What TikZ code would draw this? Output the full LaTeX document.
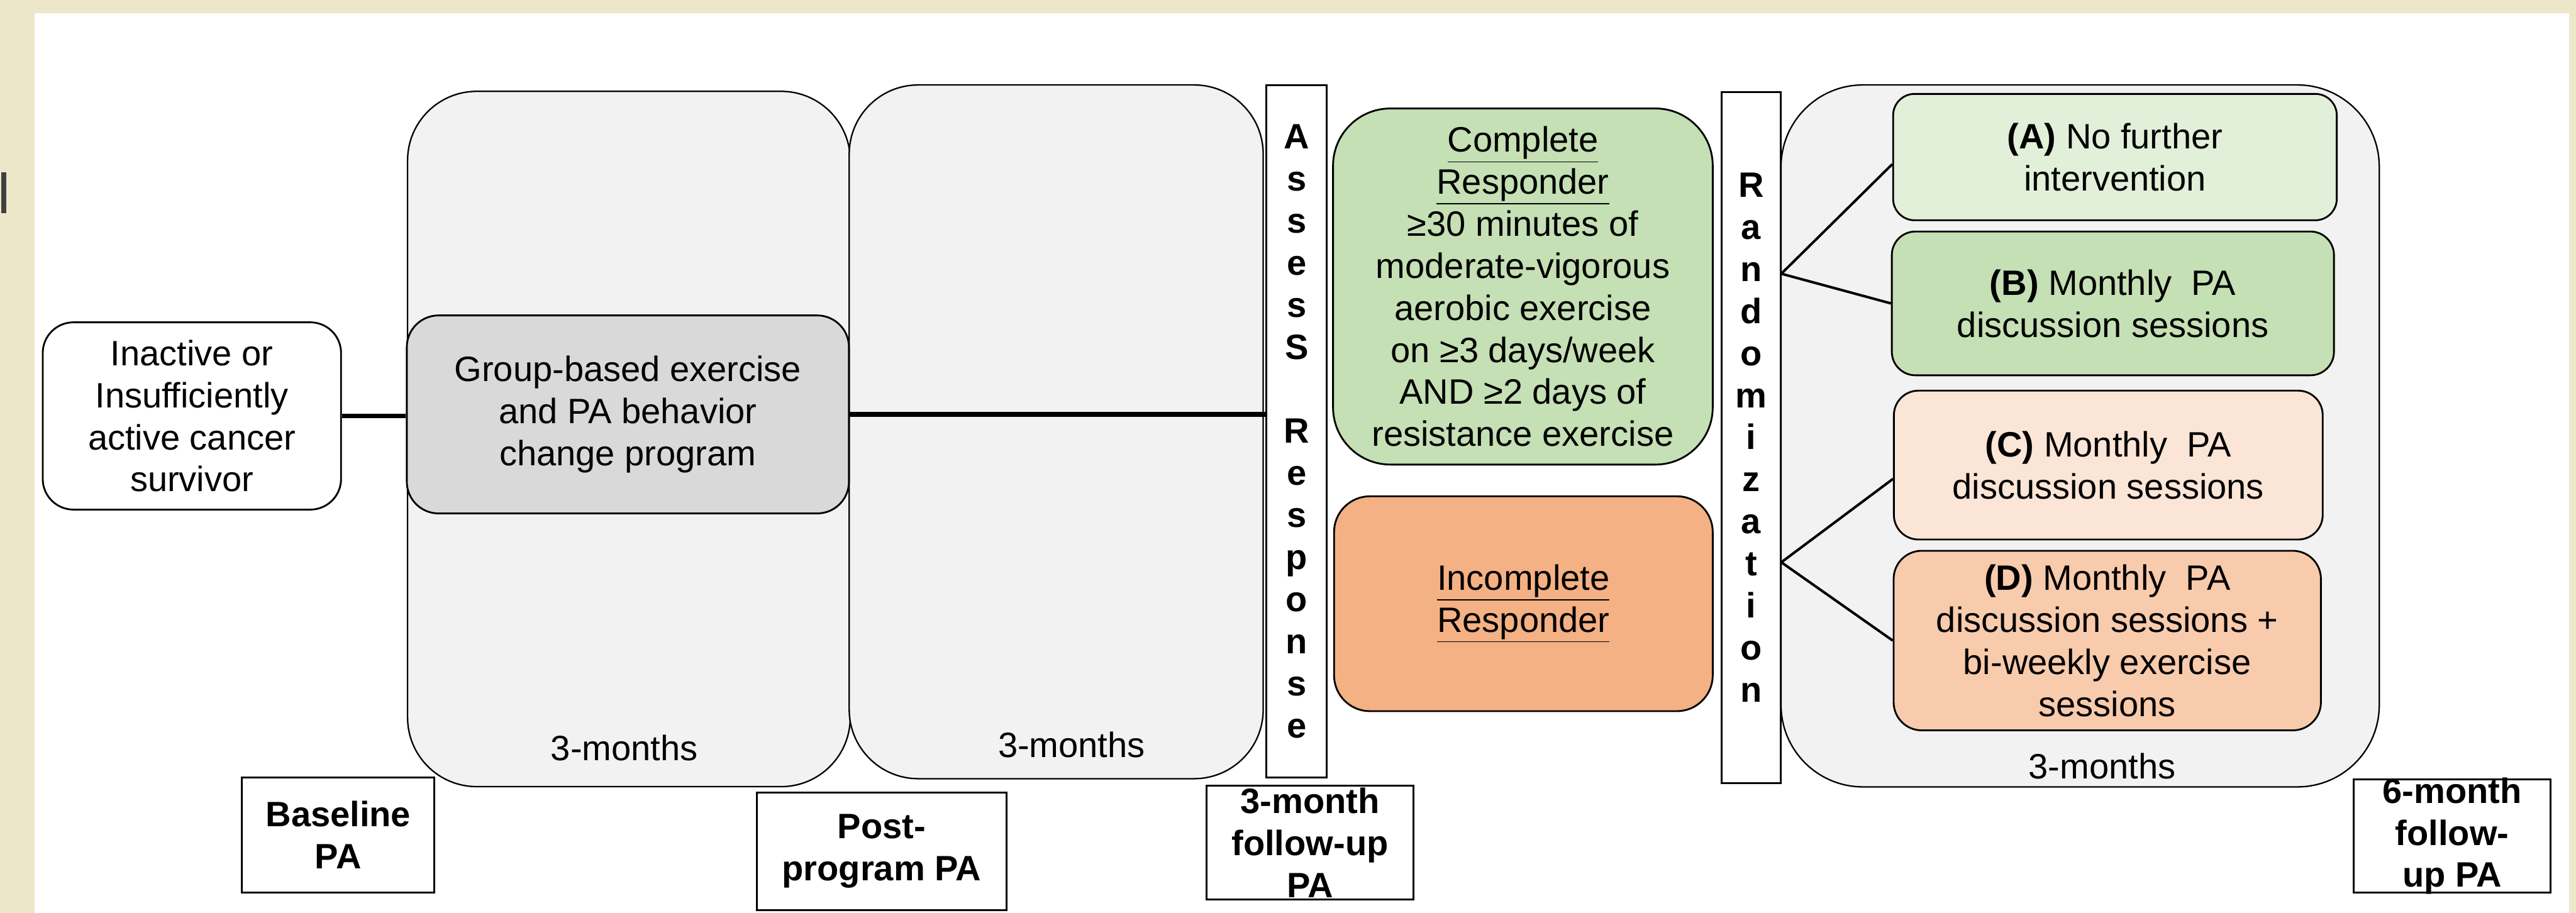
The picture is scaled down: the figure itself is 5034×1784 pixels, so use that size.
\documentclass[tikz,border=0pt]{standalone}
\usepackage{fontspec}
\setmainfont{Liberation Sans}
\usetikzlibrary{positioning,calc}

\definecolor{framebeige}{HTML}{EBE7C8}
\definecolor{phasegray}{HTML}{F2F2F2}
\definecolor{proggray}{HTML}{D9D9D9}
\definecolor{respgreen}{HTML}{C5E0B4}
\definecolor{lightgreen}{HTML}{E2F0D9}
\definecolor{resporange}{HTML}{F4B183}
\definecolor{lightorange}{HTML}{FBE5D6}
\definecolor{midorange}{HTML}{F8CBAD}

\tikzset{
  txt/.style={align=center, inner sep=0pt, font=\fontsize{19.6}{23.4}\selectfont},
  boldtxt/.style={txt, font=\fontsize{19.6}{23.4}\selectfont\bfseries},
  rbox/.style={txt, draw=black, line width=1pt, rounded corners=#1},
  phase/.style={draw=black, line width=0.8pt, fill=phasegray, rounded corners=#1, inner sep=0pt},
  vbar/.style={boldtxt, draw=black, line width=1pt, fill=white},
  timebox/.style={draw=black, line width=1pt, fill=white, inner sep=0pt},
  boxsize/.style 2 args={minimum width=#1, minimum height=#2},
  thicklink/.style={line width=2.6pt},
  link/.style={line width=1.4pt},
}

\begin{document}
\begin{tikzpicture}[x=0.1mm, y=-0.1mm]
    \useasboundingbox (0,0) rectangle (5034,1784);

    % Marco de fondo
    \fill[framebeige] (0,0) rectangle (5034,1784);
    \fill[white] (68,26) rectangle (5020,1784);
    \fill[black!75] (2,337) rectangle (12,417);

    % Fases de 3 meses
    \node[phase=13.5mm, boxsize={86.5mm}{135.9mm}] (phaseone) at (1229,858) {};
    \node[phase=13.5mm, boxsize={80.9mm}{135.6mm}] (phasetwo) at (2064,844) {};
    \node[phase=16mm, boxsize={116.9mm}{137.2mm}] (phasethree) at (4065,852) {};
    \node[txt] (monthsone) at (1220,1462) {3-months};
    \node[txt] (monthstwo) at (2094,1456) {3-months};
    \node[txt] (monthsthree) at (4108,1497) {3-months};

    % Participantes y programa
    \node[rbox=6mm, fill=white, boxsize={58.3mm}{36.6mm}] (inactive) at (375,813)
        {Inactive or\\Insufficiently\\active cancer\\survivor};
    \node[rbox=6.2mm, fill=proggray, boxsize={86.4mm}{38.7mm}] (program) at (1227,810)
        {Group-based exercise\\and PA behavior\\change program};

    % Barras verticales
    \node[vbar, boxsize={11.8mm}{135.4mm}] (assess) at (2534,843)
        {A\\s\\s\\e\\s\\S\\\mbox{}\\R\\e\\s\\p\\o\\n\\s\\e};
    \node[vbar, boxsize={11.6mm}{135.1mm}] (random) at (3422,855)
        {R\\a\\n\\d\\o\\m\\i\\z\\a\\t\\i\\o\\n};

    % Respuesta
    \node[rbox=11.2mm, fill=respgreen, boxsize={74.2mm}{69.6mm}] (complete) at (2976,560)
        {\underline{Complete}\\\underline{Responder}\\≥30 minutes of\\moderate-vigorous\\aerobic exercise\\on ≥3 days/week\\AND ≥2 days of\\resistance exercise};
    \node[rbox=7mm, fill=resporange, boxsize={74mm}{42mm}] (incomplete) at (2977,1180)
        {\underline{Incomplete}\\\underline{Responder}};

    % Brazos aleatorizados
    \node[rbox=4.2mm, fill=lightgreen, boxsize={86.7mm}{24.7mm}] (armA) at (4133,307)
        {\textbf{(A)} No further\\intervention};
    \node[rbox=4.6mm, fill=respgreen, boxsize={86.4mm}{28.1mm}] (armB) at (4129,593)
        {\textbf{(B)} Monthly\ \ PA\\discussion sessions};
    \node[rbox=4.8mm, fill=lightorange, boxsize={83.8mm}{29.1mm}] (armC) at (4120,909)
        {\textbf{(C)} Monthly\ \ PA\\discussion sessions};
    \node[rbox=5.5mm, fill=midorange, boxsize={83.5mm}{35.1mm}] (armD) at (4118,1252)
        {\textbf{(D)} Monthly\ \ PA\\discussion sessions +\\bi-weekly exercise\\sessions};

    % Mediciones de AF
    \node[timebox, boxsize={37.6mm}{22.5mm}] (baseline) at (661,1632) {};
    \node[boldtxt] (baselinetxt) at (baseline.center) {Baseline\\PA};
    \node[timebox, boxsize={48.7mm}{22.9mm}] (postprog) at (1723,1664) {};
    \node[boldtxt] (postprogtxt) at (postprog.center) {Post-\\program PA};
    \node[timebox, boxsize={40.4mm}{22.2mm}] (followthree) at (2560,1647) {};
    \node[boldtxt] (followthreetxt) at (followthree.center) {3-month\\follow-up\\PA};
    \node[timebox, boxsize={38.4mm}{22.1mm}] (followsix) at (4792,1634) {};
    \node[boldtxt] (followsixtxt) at (followsix.center) {6-month\\follow-\\up PA};

    % Conexiones
    \draw[thicklink] (inactive.east) -- (inactive.east -| program.west);
    \draw[thicklink] (program.east) -- (program.east -| assess.west);
    \coordinate (rtop) at (3481,535);
    \coordinate (rbot) at (3481,1099);
    \draw[link] (rtop) -- ([yshift=-1.4mm]armA.west);
    \draw[link] (rtop) -- (armB.west);
    \draw[link] (rbot) -- ([yshift=-2.7mm]armC.west);
    \draw[link] (rbot) -- (armD.west);
\end{tikzpicture}
\end{document}
